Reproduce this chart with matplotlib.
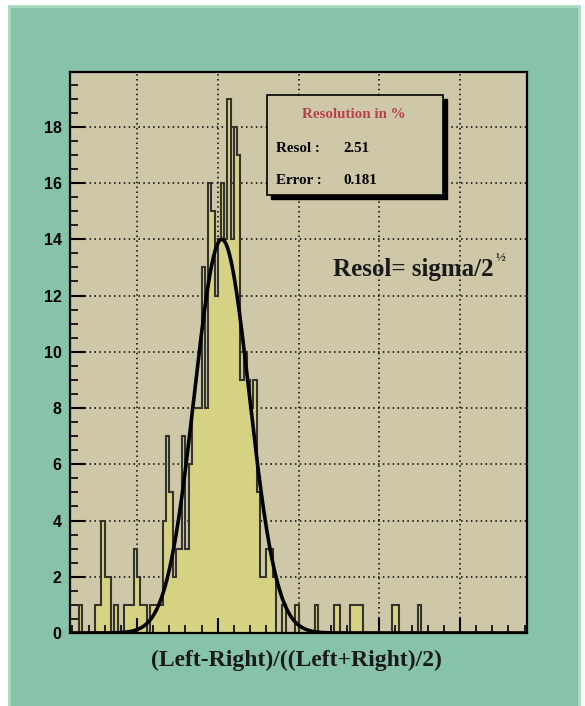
import numpy as np
import matplotlib
matplotlib.use("Agg")
import matplotlib.pyplot as plt
from matplotlib.patches import Rectangle
from matplotlib.ticker import MultipleLocator

# ---------------- data ----------------
hist_lo, hist_hi, n_bins = -0.28, 0.28, 140
counts = [
    0, 0, 1, 0, 0, 0, 0, 1, 1, 4,
    2, 2, 0, 1, 0, 0, 1, 1, 1, 3,
    2, 1, 1, 0, 1, 1, 1, 1, 4, 7,
    5, 2, 3, 3, 7, 3, 6, 8, 8, 8,
    13, 8, 16, 15, 12, 14, 16, 14, 19, 14,
    18, 17, 9, 10, 9, 8, 9, 5, 2, 2,
    3, 3, 2, 0, 0, 1, 0, 0, 0, 1,
    0, 0, 0, 0, 0, 1, 0, 0, 0, 0,
    0, 1, 1, 0, 0, 0, 1, 1, 1, 1,
    0, 0, 0, 0, 0, 0, 0, 0, 0, 1,
    1, 0, 0, 0, 0, 0, 0, 1, 0, 0,
    0, 0, 0, 0, 0, 0, 0, 0, 0, 0,
    0, 0, 0, 0, 0, 0, 0, 0, 0, 0,
    0, 0, 0, 0, 0, 0, 0, 0, 0, 0,
]
fit_amp, fit_mean, fit_sigma = 14.0, -0.095, 0.034
y_ticks = [0, 2, 4, 6, 8, 10, 12, 14, 16, 18]
x_label = "(Left-Right)/((Left+Right)/2)"
box_title = "Resolution in %"
box_rows = [("Resol :", "2.51"), ("Error :", "0.181")]
formula_text = "Resol= sigma/2"
formula_sup = "\u00bd"

# ---------------- style ----------------
GREEN = "#86C3A9"
GREEN_LIGHT = "#A9D9C3"
TAN = "#CEC8A9"
YELLOW = "#D6D284"
OUTLINE = "#34342A"
SERIF = ["Liberation Serif", "DejaVu Serif"]
SANS = ["Liberation Sans", "DejaVu Sans"]

fig = plt.figure(figsize=(5.85, 7.06), dpi=100)
fig.patch.set_facecolor("white")
bg = fig.add_axes([0, 0, 1, 1], zorder=-10)
bg.set_xlim(0, 585)
bg.set_ylim(706, 0)
bg.axis("off")
bg.add_patch(Rectangle((9, 6), 570, 702, facecolor=GREEN,
                       edgecolor=GREEN_LIGHT, lw=2.0))

ax = fig.add_axes([70 / 585, 73 / 706, 457 / 585, 561 / 706])
ax.set_facecolor(TAN)
ax.set_xlim(-0.283, 0.283)
ax.set_ylim(0, 19.95)

edges = np.linspace(hist_lo, hist_hi, n_bins + 1)
ax.stairs(counts, edges, fill=True, color=YELLOW, zorder=1.5)
ax.stairs(counts, edges, color=OUTLINE, lw=1.5, zorder=1.6)

xs = np.linspace(-0.283, 0.283, 800)
ax.plot(xs, fit_amp * np.exp(-0.5 * ((xs - fit_mean) / fit_sigma) ** 2),
        color="black", lw=2.6, zorder=3, solid_capstyle="round")

ax.xaxis.set_major_locator(MultipleLocator(0.1))
ax.xaxis.set_minor_locator(MultipleLocator(0.02))
ax.set_yticks(y_ticks)
ax.yaxis.set_minor_locator(MultipleLocator(0.5))

for v in ax.get_xticks():
    if -0.283 < v < 0.283:
        ax.axvline(v, color="black", lw=1.1, ls=(0, (1, 2.2)), zorder=0.8)
for v in y_ticks[1:]:
    ax.axhline(v, color="black", lw=1.1, ls=(0, (1, 2.2)), zorder=0.8)

ax.tick_params(which="major", direction="in", length=11, width=1.5,
               top=False, right=False, labelbottom=False, pad=6)
ax.tick_params(which="minor", direction="in", length=5.5, width=1.2,
               top=False, right=False)
for lab in ax.get_yticklabels():
    lab.set_fontfamily(SANS)
    lab.set_fontweight("bold")
    lab.set_fontsize(11.5)
for s in ax.spines.values():
    s.set_linewidth(1.6)
    s.set_zorder(4)

fig.text(296 / 585, (706 - 660) / 706, x_label, ha="center", va="center",
         fontsize=17, fontweight="bold", family=SERIF, color="#1a1a1a")

# statistics box
bx0, bx1 = (266.7 - 70) / 457, (442.7 - 70) / 457
by0, by1 = (633 - 195) / 561, (633 - 95) / 561
ax.add_patch(Rectangle((bx0 + 4 / 457, by0 - 4 / 561), bx1 - bx0, by1 - by0,
                       transform=ax.transAxes, facecolor="black",
                       edgecolor="black", zorder=5))
ax.add_patch(Rectangle((bx0, by0), bx1 - bx0, by1 - by0,
                       transform=ax.transAxes, facecolor=TAN,
                       edgecolor="black", lw=1.2, zorder=6))
ax.text((354 - 70) / 457, (633 - 114) / 561, box_title, transform=ax.transAxes,
        ha="center", va="center", fontsize=10.8, fontweight="bold", family=SERIF,
        color="#B8404A", zorder=7)
for i, (k, v) in enumerate(box_rows):
    yy = (633 - (148 + 32 * i)) / 561
    ax.text((276 - 70) / 457, yy, k, transform=ax.transAxes, ha="left",
            va="center", fontsize=10.8, fontweight="bold", family=SERIF, zorder=7)
    ax.text((343.5 - 70) / 457, yy, v, transform=ax.transAxes, ha="left",
            va="center", fontsize=10.8, fontweight="bold", family=SERIF, zorder=7)

t = ax.text((332.7 - 70) / 457, (633 - 276) / 561, formula_text,
            transform=ax.transAxes, ha="left", va="baseline", fontsize=18,
            fontweight="bold", family=SERIF, color="#1a1a1a", zorder=7)
ax.annotate(formula_sup, xy=(1.0, 0.78), xycoords=t, xytext=(1.5, 0),
            textcoords="offset points", ha="left", va="bottom", fontsize=9.5,
            fontweight="bold", family=SERIF, color="#1a1a1a", zorder=7)

fig.savefig("out.png", dpi=100, facecolor=fig.get_facecolor())
